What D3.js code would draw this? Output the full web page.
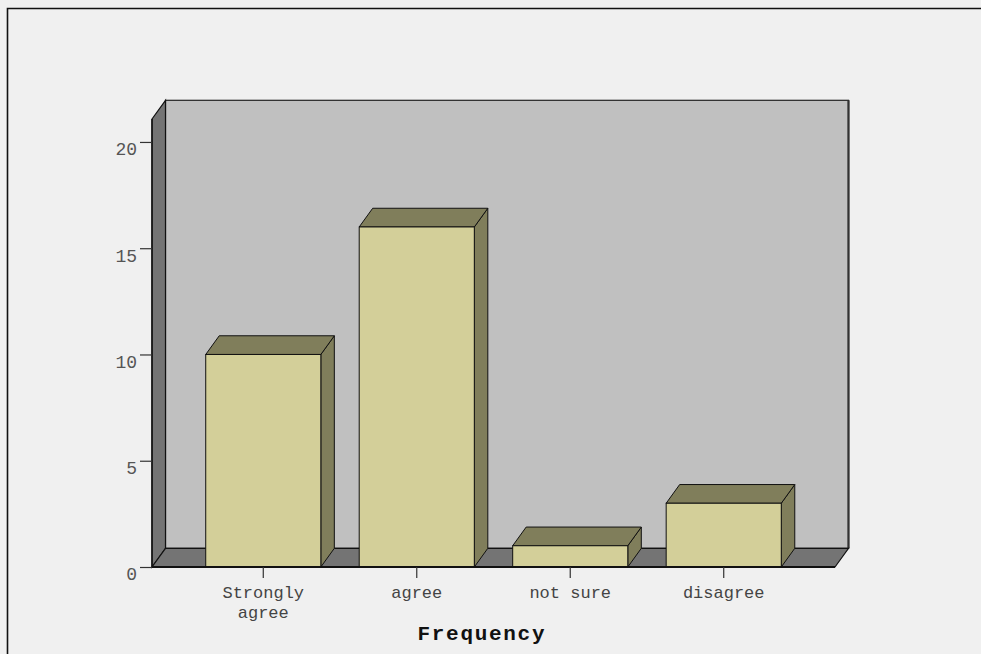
<!DOCTYPE html>
<html>
<head>
<meta charset="utf-8">
<script src="https://cdn.jsdelivr.net/npm/d3@7"></script>
<style>
  html, body { margin: 0; padding: 0; background: #f0f0f0; }
  svg { display: block; }
</style>
</head>
<body>
<svg id="chart" width="981" height="654"></svg>
<script>
// Response categories and their counts
const categories = ["Strongly agree", "agree", "not sure", "disagree"];
const categoryLines = [["Strongly", "agree"], ["agree"], ["not sure"], ["disagree"]];
const counts = [10, 16, 1, 3];
const yTicks = [0, 5, 10, 15, 20];
const axisTitle = "Frequency";

const W = 981, H = 654;
const svg = d3.select("#chart");

// front plane of the 3D box
const plotLeft = 152, plotRight = 835, plotBottom = 567, plotTop = 119;
// depth offset of the back plane
const dx = 13.5, dy = 18.7;

const y = d3.scaleLinear().domain([0, 21.08]).range([plotBottom, plotTop]);
const x = d3.scaleBand().domain(categories).range([plotLeft, plotRight])
  .paddingInner(0.25).paddingOuter(0.35);
const yMax = y.domain()[1];
const mono = "'Liberation Mono', 'Courier New', monospace";

// frame
svg.append("rect").attr("x", 0).attr("y", 0).attr("width", W).attr("height", H).attr("fill", "#f0f0f0");
svg.append("path").attr("d", `M7.5,${H + 2} L7.5,8.5 L${W + 2},8.5`)
  .attr("fill", "none").attr("stroke", "#111").attr("stroke-width", 1.6);

const g = svg.append("g");
const yBack = v => y(v) - dy;

// back wall
g.append("rect")
  .attr("x", plotLeft + dx).attr("y", yBack(yMax))
  .attr("width", plotRight - plotLeft).attr("height", y(0) - y(yMax))
  .attr("fill", "#c0c0c0").attr("stroke", "#222").attr("stroke-width", 1.2);
g.append("line")
  .attr("x1", plotRight + dx).attr("x2", plotRight + dx)
  .attr("y1", yBack(yMax)).attr("y2", yBack(0))
  .attr("stroke", "#333").attr("stroke-width", 2.2);

// left wall
g.append("path")
  .attr("d", `M${plotLeft},${y(yMax)} L${plotLeft + dx},${yBack(yMax)} L${plotLeft + dx},${yBack(0)} L${plotLeft},${y(0)} Z`)
  .attr("fill", "#747474").attr("stroke", "#111").attr("stroke-width", 1.2);

// floor
g.append("path")
  .attr("d", `M${plotLeft},${y(0)} L${plotLeft + dx},${yBack(0)} L${plotRight + dx},${yBack(0)} L${plotRight},${y(0)} Z`)
  .attr("fill", "#747474").attr("stroke", "#111").attr("stroke-width", 1.2);

// bars
const bars = g.selectAll(".bar").data(categories.map((c, i) => ({ c, v: counts[i] })))
  .join("g").attr("class", "bar");

bars.append("path") // side face
  .attr("d", d => {
    const x1 = x(d.c) + x.bandwidth();
    return `M${x1},${y(d.v)} L${x1 + dx},${yBack(d.v)} L${x1 + dx},${yBack(0)} L${x1},${y(0)} Z`;
  })
  .attr("fill", "#807e5b").attr("stroke", "#111").attr("stroke-width", 1);

bars.append("path") // top face
  .attr("d", d => {
    const x0 = x(d.c), x1 = x0 + x.bandwidth();
    return `M${x0},${y(d.v)} L${x0 + dx},${yBack(d.v)} L${x1 + dx},${yBack(d.v)} L${x1},${y(d.v)} Z`;
  })
  .attr("fill", "#807e5b").attr("stroke", "#111").attr("stroke-width", 1);

bars.append("rect") // front face
  .attr("x", d => x(d.c)).attr("y", d => y(d.v))
  .attr("width", x.bandwidth()).attr("height", d => y(0) - y(d.v))
  .attr("fill", "#d3cf99").attr("stroke", "#111").attr("stroke-width", 1);

// front edges of the box
g.append("line").attr("x1", plotLeft).attr("x2", plotRight).attr("y1", y(0)).attr("y2", y(0))
  .attr("stroke", "#111").attr("stroke-width", 2);
g.append("line").attr("x1", plotLeft).attr("x2", plotLeft).attr("y1", y(yMax)).attr("y2", y(0))
  .attr("stroke", "#111").attr("stroke-width", 1.4);

// y axis
const yAxis = d3.axisLeft(y).tickValues(yTicks).tickSize(12).tickPadding(4);
const ya = svg.append("g").attr("transform", `translate(${plotLeft},0)`).call(yAxis);
ya.select(".domain").remove();
ya.selectAll(".tick line").attr("stroke", "#333").attr("stroke-width", 1.2);
ya.selectAll(".tick text")
  .attr("font-family", mono)
  .attr("font-size", 18).attr("fill", "#555").attr("dy", "0.72em")
  .attr("x", -15);

// x axis
const xAxis = d3.axisBottom(x).tickSize(11).tickFormat("");
const xa = svg.append("g").attr("transform", `translate(0,${plotBottom})`).call(xAxis);
xa.select(".domain").remove();
xa.selectAll(".tick line").attr("stroke", "#333").attr("stroke-width", 1.2);

// category labels, one text per line
categories.forEach((c, i) => {
  const cx = x(c) + x.bandwidth() / 2;
  categoryLines[i].forEach((w, j) => {
    svg.append("text")
      .attr("x", cx).attr("y", 598 + j * 19.5)
      .attr("text-anchor", "middle")
      .attr("font-family", mono)
      .attr("font-size", 17).attr("fill", "#444")
      .text(w);
  });
});

// axis title
svg.append("text")
  .attr("x", 481).attr("y", 640)
  .attr("text-anchor", "middle")
  .attr("font-family", mono)
  .attr("font-weight", "bold").attr("font-size", 21).attr("fill", "#111")
  .attr("textLength", 127).attr("lengthAdjust", "spacing")
  .text(axisTitle);
</script>
</body>
</html>
